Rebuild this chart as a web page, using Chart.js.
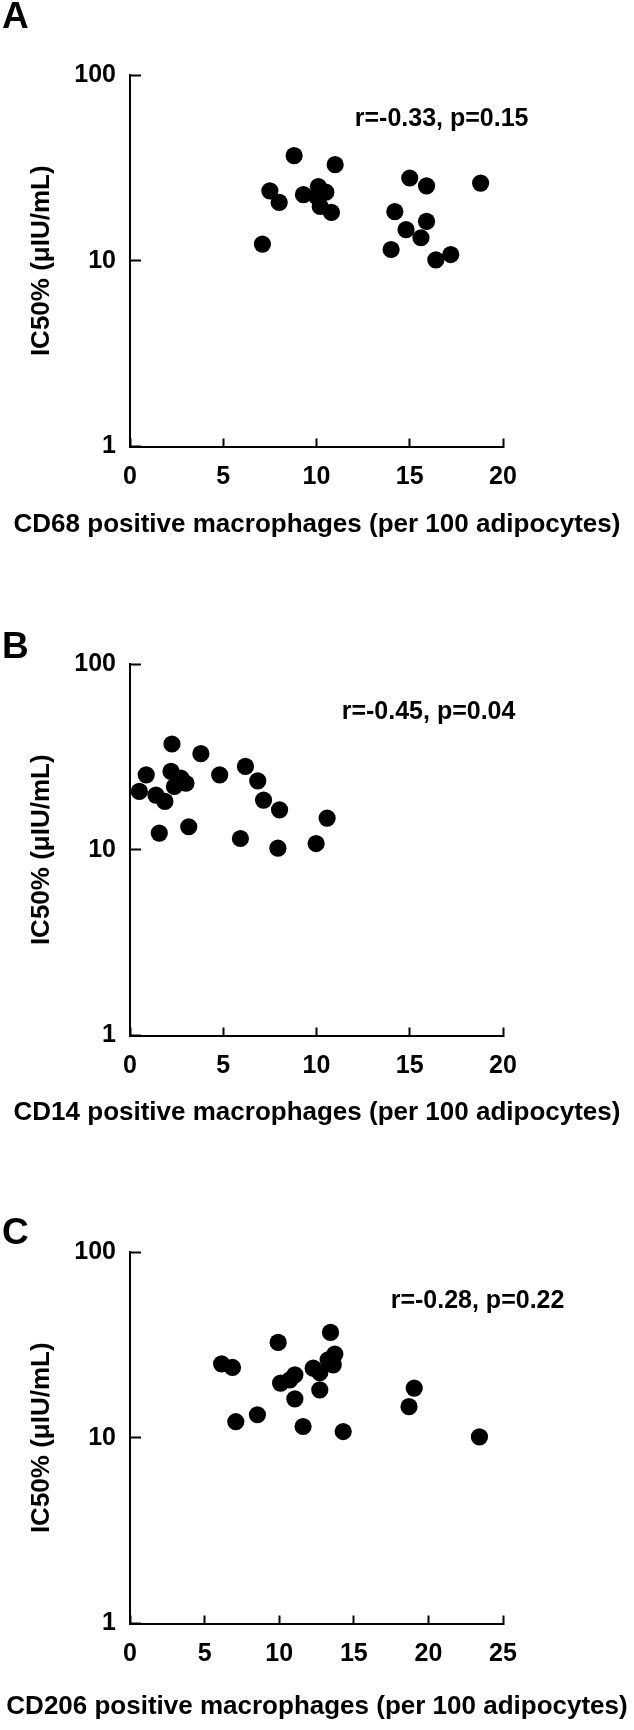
<!DOCTYPE html>
<html>
<head>
<meta charset="utf-8">
<script src="https://cdn.jsdelivr.net/npm/chart.js@4"></script>
<style>
  html, body { margin: 0; padding: 0; background: #fff; overflow: hidden; }
  canvas { position: absolute; left: 0; }
</style>
</head>
<body>
<canvas id="panelA" width="634" height="589" style="top:0px"></canvas>
<canvas id="panelB" width="634" height="589" style="top:589px"></canvas>
<canvas id="panelC" width="634" height="589" style="top:1177px"></canvas>
<script>
// valeurs
const cd68 = [8.8, 11.0, 7.5, 8.0, 9.3, 10.1, 10.5, 10.0, 10.2, 10.8, 7.1, 15.0, 15.9, 18.8, 14.2, 15.9, 14.8, 15.6, 14.0, 17.2, 16.4];
const ic50A = [36.8, 32.9, 23.8, 20.6, 22.7, 25.1, 23.4, 22.2, 19.6, 18.2, 12.3, 27.9, 25.3, 26.2, 18.4, 16.3, 14.7, 13.3, 11.5, 10.8, 10.1];

const cd14 = [2.25, 3.8, 0.87, 2.2, 2.73, 3.0, 2.38, 0.5, 1.39, 1.87, 4.81, 6.19, 6.85, 7.16, 8.02, 10.57, 1.57, 3.15, 5.92, 7.93, 9.98];
const ic50B = [37.1, 32.9, 25.3, 26.4, 24.3, 22.8, 21.9, 20.6, 19.7, 18.2, 25.3, 28.1, 23.5, 18.5, 16.4, 14.8, 12.3, 13.3, 11.5, 10.2, 10.8];

const cd206 = [13.44, 9.93, 6.87, 13.73, 13.28, 13.62, 12.28, 12.72, 11.05, 10.71, 10.09, 12.72, 11.05, 19.05, 18.7, 8.54, 7.09, 11.6, 14.29, 23.42, 6.14];
const ic50C = [36.9, 32.6, 23.9, 28.2, 26.3, 24.7, 23.7, 22.4, 21.8, 20.5, 19.7, 18.1, 16.2, 18.5, 14.7, 13.3, 12.2, 11.5, 10.8, 10.1, 25.0];

const yTicks = [1, 10, 100];
const xTicks20 = [0, 5, 10, 15, 20];
const xTicks25 = [0, 5, 10, 15, 20, 25];

const FONT = '"Liberation Sans", Arial, sans-serif';

// texte : lettre du panneau, titre de l'axe x, coefficient
const panelText = {
    id: 'panelText',
    afterDraw(chart, args, opts) {
        const ctx = chart.ctx;
        const x = chart.scales.x, y = chart.scales.y;
        ctx.save();
        ctx.fillStyle = '#000';
        ctx.textBaseline = 'middle';

        ctx.font = 'bold 37px ' + FONT;
        ctx.textAlign = 'left';
        ctx.fillText(opts.letter, 2, opts.letterY);

        ctx.font = 'bold 26px ' + FONT;
        ctx.textAlign = 'center';
        ctx.fillText(opts.xTitle, chart.width / 2, opts.titleY);

        ctx.font = 'bold 25px ' + FONT;
        ctx.textAlign = 'left';
        ctx.fillText(opts.note, x.getPixelForValue(opts.noteAt[0]), y.getPixelForValue(opts.noteAt[1]));
        ctx.restore();
    }
};

function drawPanel(id, xs, ys, xMax, xTicks, text) {
    const ctx = document.getElementById(id).getContext('2d');
    new Chart(ctx, {
        type: 'scatter',
        data: {
            datasets: [{
                data: xs.map((v, i) => ({ x: v, y: ys[i] })),
                backgroundColor: '#000',
                borderWidth: 0,
                pointRadius: 8.6,
                pointHoverRadius: 8.6
            }]
        },
        options: {
            responsive: false,
            animation: false,
            layout: { padding: { top: 75, right: 131, bottom: 0, left: 0 } },
            plugins: {
                legend: { display: false },
                tooltip: { enabled: false },
                panelText: text
            },
            scales: {
                x: {
                    type: 'linear',
                    min: 0,
                    max: xMax,
                    afterBuildTicks: s => { s.ticks = xTicks.map(v => ({ value: v })); },
                    afterFit: s => { s.height = 142.5; },
                    ticks: { color: '#000', font: { family: FONT, size: 25, weight: 'bold' }, padding: 23.5 },
                    grid: { drawOnChartArea: false, tickLength: -8, tickColor: '#000', tickWidth: 2 },
                    border: { color: '#000', width: 2 }
                },
                y: {
                    type: 'logarithmic',
                    min: 1,
                    max: 100,
                    afterBuildTicks: s => { s.ticks = yTicks.map(v => ({ value: v })); },
                    afterFit: s => { s.width = 130; },
                    ticks: {
                        color: '#000',
                        font: { family: FONT, size: 25, weight: 'bold' },
                        padding: 25,
                        callback: v => String(v)
                    },
                    grid: { drawOnChartArea: false, tickLength: -11, tickColor: '#000', tickWidth: 2 },
                    border: { color: '#000', width: 2 },
                    title: {
                        display: true,
                        text: 'IC50% (μIU/mL)',
                        color: '#000',
                        font: { family: FONT, size: 26, weight: 'bold' },
                        padding: { top: 26, bottom: 0 }
                    }
                }
            }
        },
        plugins: [panelText]
    });
}

drawPanel('panelA', cd68, ic50A, 20, xTicks20, {
    letter: 'A', letterY: 18, titleY: 525,
    xTitle: 'CD68 positive macrophages (per 100 adipocytes)',
    note: 'r=-0.33, p=0.15', noteAt: [12.05, 58]
});
drawPanel('panelB', cd14, ic50B, 20, xTicks20, {
    letter: 'B', letterY: 59, titleY: 524,
    xTitle: 'CD14 positive macrophages (per 100 adipocytes)',
    note: 'r=-0.45, p=0.04', noteAt: [11.35, 55.3]
});
drawPanel('panelC', cd206, ic50C, 25, xTicks25, {
    letter: 'C', letterY: 57, titleY: 530,
    xTitle: 'CD206 positive macrophages (per 100 adipocytes)',
    note: 'r=-0.28, p=0.22', noteAt: [17.47, 54.2]
});
</script>
</body>
</html>
